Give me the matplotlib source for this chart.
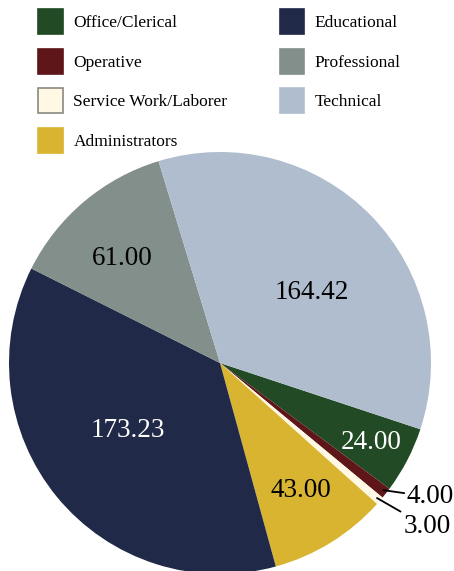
import numpy as np
import matplotlib
matplotlib.use("Agg")
import matplotlib.pyplot as plt
from matplotlib.patches import Patch

categories = ["Office/Clerical", "Operative", "Service Work/Laborer", "Administrators",
              "Educational", "Professional", "Technical"]
values = [24.00, 4.00, 3.00, 43.00, 173.23, 61.00, 164.42]
colors = ["#224a24", "#5e1619", "#fff8e4", "#d9b431", "#202a48", "#838f8a", "#b0bdce"]
label_colors = ["white", "black", "black", "black", "white", "black", "black"]
# label radial distance (fraction of radius) and angular offset (deg)
label_r = [0.803, 1.09, 1.165, 0.706, 0.533, 0.686, 0.555]
label_dang = [0.4, 2.5, -1.0, 1.2, -4.3, 2.1, -5.7]
outside = [False, True, True, False, False, False, False]

plt.rcParams['font.family'] = ['Liberation Serif', 'DejaVu Serif']

W, H = 454, 571
fig = plt.figure(figsize=(W / 100, H / 100), dpi=100)

R = 211
cx, cy = 220, 571 - 363
lim = 1.05
size = 2 * R * lim
ax = fig.add_axes([(cx - size / 2) / W, (cy - size / 2) / H, size / W, size / H])

start = -18.3
wedges, _ = ax.pie(values, colors=colors, startangle=start, counterclock=False,
                   radius=1.0, wedgeprops=dict(linewidth=0))
ax.set_xlim(-lim, lim)
ax.set_ylim(-lim, lim)
ax.set_aspect('equal')
ax.axis('off')

for w, v, lc, r, da, out in zip(wedges, values, label_colors, label_r, label_dang, outside):
    mid = np.deg2rad((w.theta1 + w.theta2) / 2)
    ang = mid + np.deg2rad(da)
    tx, ty = r * np.cos(ang), r * np.sin(ang)
    txt = f"{v:.2f}"
    if out:
        sx, sy = 0.975 * np.cos(mid), 0.975 * np.sin(mid)
        ax.annotate(txt, xy=(sx, sy), xytext=(tx, ty), ha='left', va='center',
                    fontsize=19.5, color='black',
                    arrowprops=dict(arrowstyle='-', color='black', lw=1.3,
                                    shrinkA=0, shrinkB=1))
    else:
        ax.annotate(txt, xy=(tx, ty), xytext=(0, -2), textcoords='offset points',
                    ha='center', va='center', fontsize=19.5, color=lc)

handles = []
for c, name in zip(colors, categories):
    ec = "#8a8a80" if name.startswith("Service") else c
    handles.append(Patch(facecolor=c, edgecolor=ec, linewidth=1.2, label=name))

fig.legend(handles=handles, loc='upper left', bbox_to_anchor=(38 / W, 1 - 9 / H),
           ncol=2, frameon=False, fontsize=12.5, borderpad=0, borderaxespad=0,
           handlelength=1.42, handleheight=1.84, handletextpad=0.62,
           labelspacing=0.84, columnspacing=3.0)

fig.savefig("out.png", dpi=100)
